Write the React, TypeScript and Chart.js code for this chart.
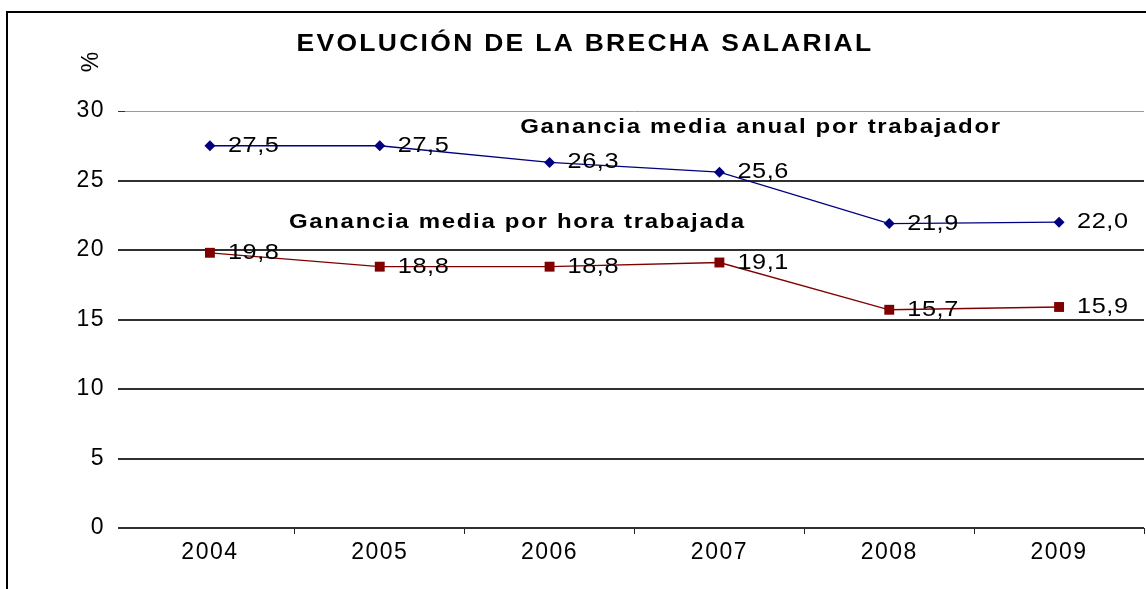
import React, { useEffect, useRef } from "react";
import { Chart, registerables } from "chart.js";

Chart.register(...registerables);

// ---- Data ----
const years = ["2004", "2005", "2006", "2007", "2008", "2009"];
const annualEarningsGap = [27.5, 27.5, 26.3, 25.6, 21.9, 22.0];
const hourlyEarningsGap = [19.8, 18.8, 18.8, 19.1, 15.7, 15.9];
const annualSeriesName = "Ganancia media anual por trabajador";
const hourlySeriesName = "Ganancia media por hora trabajada";
const chartTitle = "EVOLUCIÓN DE LA BRECHA SALARIAL";
const yAxisTitle = "%";
const yMin = 0;
const yMax = 30;
const yStep = 5;

const FONT = "'Liberation Sans', Arial, sans-serif";
const fmt = (v: number) => v.toFixed(1).replace(".", ",");

function drawStretched(
  ctx: CanvasRenderingContext2D,
  text: string,
  x: number,
  y: number,
  font: string,
  sx: number,
  spacing: number,
  align: CanvasTextAlign
) {
  ctx.save();
  ctx.font = font;
  (ctx as any).letterSpacing = `${spacing}px`;
  ctx.textAlign = align;
  ctx.textBaseline = "middle";
  ctx.translate(x, y);
  ctx.scale(sx, 1);
  ctx.fillText(text, 0, 0);
  ctx.restore();
}

const decorPlugin = {
  id: "decor",
  beforeDraw(chart: any) {
    const ctx = chart.ctx as CanvasRenderingContext2D;
    ctx.save();
    ctx.fillStyle = "#ffffff";
    ctx.fillRect(0, 0, chart.width, chart.height);
    ctx.strokeStyle = "#000000";
    ctx.lineWidth = 2;
    ctx.strokeRect(7, 12, chart.width + 100, chart.height + 100);
    ctx.restore();
    (ctx as any).letterSpacing = "1.5px";
  },
  afterDatasetsDraw(chart: any) {
    const ctx = chart.ctx as CanvasRenderingContext2D;
    const xs = chart.scales.x;
    const ys = chart.scales.y;
    ctx.save();
    ctx.fillStyle = "#000";
    // value labels
    chart.data.datasets.forEach((ds: any, di: number) => {
      const meta = chart.getDatasetMeta(di);
      meta.data.forEach((pt: any, i: number) => {
        drawStretched(ctx, fmt(ds.data[i]), pt.x + 18, pt.y, `22px ${FONT}`, 1.15, 0.5, "left");
      });
    });
    // series annotations
    drawStretched(
      ctx,
      annualSeriesName,
      xs.getPixelForValue(1.827),
      ys.getPixelForValue(28.78),
      `bold 20px ${FONT}`,
      1.2,
      1.4,
      "left"
    );
    drawStretched(
      ctx,
      hourlySeriesName,
      xs.getPixelForValue(0.465),
      ys.getPixelForValue(22.0),
      `bold 20px ${FONT}`,
      1.2,
      1.4,
      "left"
    );
    // title
    drawStretched(ctx, chartTitle, 585, 45, `bold 23px ${FONT}`, 1.15, 2.0, "center");
    // y axis title
    ctx.save();
    ctx.font = `23px ${FONT}`;
    (ctx as any).letterSpacing = "0px";
    ctx.textAlign = "center";
    ctx.textBaseline = "middle";
    ctx.translate(92, 62);
    ctx.rotate(-Math.PI / 2);
    ctx.fillText(yAxisTitle, 0, 0);
    ctx.restore();
    ctx.restore();
  },
};

export default function App() {
  const ref = useRef<HTMLCanvasElement | null>(null);

  useEffect(() => {
    if (!ref.current) return;
    const chart = new Chart(ref.current, {
      type: "line",
      data: {
        labels: years,
        datasets: [
          {
            label: annualSeriesName,
            data: annualEarningsGap,
            borderColor: "#000080",
            backgroundColor: "#000080",
            borderWidth: 1.3,
            pointStyle: "rectRot",
            pointRadius: 5.5,
            pointBorderWidth: 0,
            tension: 0,
          },
          {
            label: hourlySeriesName,
            data: hourlyEarningsGap,
            borderColor: "#800000",
            backgroundColor: "#800000",
            borderWidth: 1.3,
            pointStyle: "rect",
            pointRadius: 7,
            pointBorderWidth: 0,
            tension: 0,
          },
        ],
      },
      options: {
        responsive: false,
        animation: false,
        devicePixelRatio: 1,
        layout: { padding: { left: 0, right: 0, top: 111, bottom: 0 } },
        plugins: {
          legend: { display: false },
          title: { display: false },
          tooltip: { enabled: false },
        },
        scales: {
          x: {
            type: "category",
            offset: true,
            border: { display: false },
            grid: {
              display: true,
              offset: true,
              drawOnChartArea: false,
              drawTicks: true,
              tickLength: 6,
              lineWidth: 1,
              tickColor: (c: any) => (c.index === 0 ? "rgba(0,0,0,0)" : "#222"),
            },
            ticks: {
              color: "#000",
              font: { family: FONT, size: 23 },
              padding: 5,
              maxRotation: 0,
              autoSkip: false,
            },
            afterFit: (s: any) => {
              s.height = 61;
            },
          },
          y: {
            min: yMin,
            max: yMax,
            border: { display: false },
            grid: {
              color: (c: any) => (c.tick && c.tick.value === yMax ? "#9a9a9a" : "#303030"),
              lineWidth: (c: any) => (c.tick && c.tick.value === yMax ? 1 : 2),
              tickColor: "#303030",
              tickLength: 7,
              drawTicks: true,
            },
            ticks: {
              stepSize: yStep,
              color: "#000",
              font: { family: FONT, size: 23 },
              padding: 13,
            },
            afterFit: (s: any) => {
              s.width = 125;
            },
          },
        },
      },
      plugins: [decorPlugin],
    } as any);
    return () => chart.destroy();
  }, []);

  return (
    <div
      style={{
        position: "fixed",
        left: 0,
        top: 0,
        width: 1146,
        height: 589,
        overflow: "hidden",
        background: "#fff",
      }}
    >
      <canvas ref={ref} width={1151} height={589} style={{ display: "block" }} />
    </div>
  );
}
